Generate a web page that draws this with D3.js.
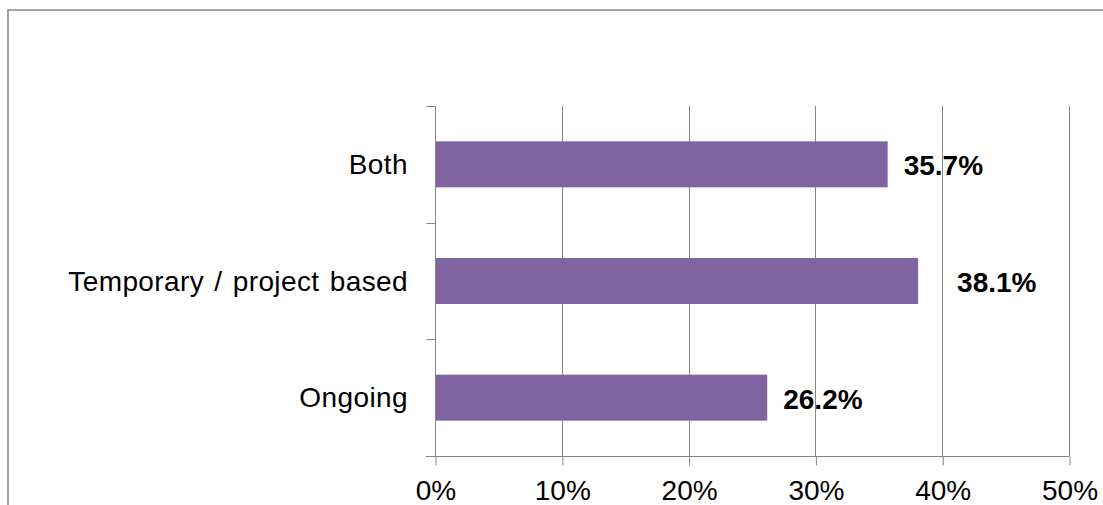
<!DOCTYPE html>
<html>
<head>
<meta charset="utf-8">
<script src="https://cdn.jsdelivr.net/npm/d3@7"></script>
<style>
  html, body { margin: 0; padding: 0; background: #fff; }
  svg { display: block; font-family: "Liberation Sans", Arial, sans-serif; }
</style>
</head>
<body>
<svg id="chart" width="1103" height="505"></svg>
<script>
// Work arrangement shares
const categories = ["Both", "Temporary / project based", "Ongoing"];
const values = [35.7, 38.1, 26.2];
const tickValues = [0, 10, 20, 30, 40, 50];
const tickLabels = ["0%", "10%", "20%", "30%", "40%", "50%"];

const svg = d3.select("#chart");
const W = 1103, H = 505;
const plot = { left: 435, right: 1069, top: 106, bottom: 456 };
const gridColor = "#868686";
const barColor = "#8064A2";
const fontSize = 28;

// outer frame (top and left edges)
svg.append("path")
  .attr("d", `M8,${H} L8,10 L${W},10`)
  .attr("fill", "none")
  .attr("stroke", "#8a8a8a")
  .attr("stroke-width", 1.6);

const x = d3.scaleLinear().domain([0, 50]).range([plot.left, plot.right]);
const y = d3.scaleBand()
  .domain(categories)
  .range([plot.top, plot.bottom])
  .paddingInner(0.606)
  .paddingOuter(0.303);

// vertical gridlines
svg.append("g")
  .selectAll("line")
  .data(tickValues.filter(v => v > 0))
  .join("line")
  .attr("x1", d => Math.round(x(d)) + 0.5)
  .attr("x2", d => Math.round(x(d)) + 0.5)
  .attr("y1", plot.top)
  .attr("y2", plot.bottom)
  .attr("stroke", gridColor)
  .attr("stroke-width", 1);

// bars
svg.append("g")
  .selectAll("rect")
  .data(categories)
  .join("rect")
  .attr("x", x(0) + 1)
  .attr("y", d => y(d))
  .attr("width", (d, i) => x(values[i]) - x(0) - 1)
  .attr("height", y.bandwidth())
  .attr("fill", barColor);

// bottom value axis
const xAxis = d3.axisBottom(x)
  .tickValues(tickValues)
  .tickFormat((d, i) => tickLabels[i])
  .tickSize(9)
  .tickSizeOuter(0);

const gx = svg.append("g")
  .attr("transform", `translate(0.5,${plot.bottom + 0.5})`)
  .call(xAxis);
gx.select(".domain").remove();
gx.append("line")
  .attr("x1", plot.left - 9.5)
  .attr("x2", plot.right)
  .attr("stroke", gridColor);
gx.selectAll(".tick line").attr("stroke", gridColor);
gx.selectAll(".tick text")
  .attr("y", 0)
  .attr("dy", 0)
  .attr("transform", "translate(0,43.5)")
  .attr("fill", "#000")
  .style("font-size", fontSize + "px")
  .style("font-family", "'Liberation Sans', Arial, sans-serif");

// left category axis: ticks at band boundaries
const boundaries = categories.map(c => y(c) - y.step() * y.paddingInner() / 2)
  .concat([plot.bottom]);
const gy = svg.append("g").attr("transform", `translate(${plot.left + 0.5},0)`);
gy.append("line")
  .attr("y1", plot.top)
  .attr("y2", plot.bottom)
  .attr("stroke", gridColor);
gy.selectAll("line.tk")
  .data(boundaries)
  .join("line")
  .attr("class", "tk")
  .attr("x1", -9)
  .attr("x2", 0)
  .attr("y1", d => Math.round(d) + 0.5)
  .attr("y2", d => Math.round(d) + 0.5)
  .attr("stroke", gridColor);

// category labels
svg.append("g")
  .selectAll("text")
  .data(categories)
  .join("text")
  .attr("x", 408)
  .attr("y", d => y(d) + y.bandwidth() / 2 + 9.5)
  .attr("text-anchor", "end")
  .attr("fill", "#000")
  .style("font-size", fontSize + "px")
  .style("letter-spacing", "0.4px")
  .style("word-spacing", "2px")
  .text(d => d);

// value labels beside the bar ends
const labelGap = { "Temporary / project based": 39 };
svg.append("g")
  .selectAll("text")
  .data(categories)
  .join("text")
  .attr("x", (d, i) => x(values[i]) + (labelGap[d] || 16))
  .attr("y", d => y(d) + y.bandwidth() / 2 + 11)
  .attr("fill", "#000")
  .style("font-size", fontSize + "px")
  .style("font-weight", "bold")
  .text((d, i) => values[i].toFixed(1) + "%");
</script>
</body>
</html>
